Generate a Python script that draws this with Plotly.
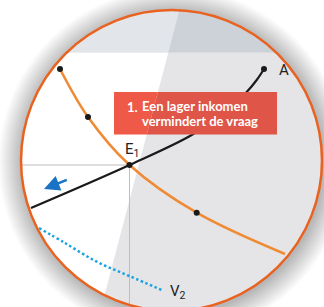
import numpy as np
import plotly.graph_objects as go

# ---- data (pixel-like units) ----
supply_x = [31, 129.5, 191.7, 222, 246.7, 256.7, 264]
supply_y = [208, 165, 135, 114, 92, 80, 69]

demand_x = [60, 88, 129.5, 196.7, 285]
demand_y = [69, 117, 165, 212.7, 254]

v2_x = [39, 65, 96.7, 129.3, 163.3]
v2_y = [228, 243, 261.7, 276, 290.7]

dots_x = [60, 88, 129.5, 196.7, 264]
dots_y = [69, 117, 165, 212.7, 69]

eq_x, eq_y = 129.5, 165          # E1
arrow_tail = (68.3, 179.3)
arrow_head = (44, 189)

labels = ["A", "E<sub>1</sub>", "V<sub>2</sub>"]
label_x = [277, 123, 168]
label_y = [70, 150, 292]

box_line1 = "Een lager inkomen"
box_line2 = "vermindert de vraag"
box_num = "1."

# ---- geometry of the magnifier ----
W, H = 324, 307
cx, cy, r = 171.5, 160.5, 150.5
band_y = 52.5
slant_a, slant_b = 182.13, 0.263    # x = a - b*y
box = (114, 92, 277, 134.5)

th = np.linspace(0, 2 * np.pi, 361)[:-1]
circle_poly = [(cx + r * np.cos(t), cy + r * np.sin(t)) for t in th]


def clip(poly, f):
    """keep f(p) <= 0 (f linear)"""
    out = []
    n = len(poly)
    for i in range(n):
        p, q = poly[i], poly[(i + 1) % n]
        fp, fq = f(p), f(q)
        if fp <= 0:
            out.append(p)
        if (fp <= 0) != (fq <= 0):
            t = fp / (fp - fq)
            out.append((p[0] + t * (q[0] - p[0]), p[1] + t * (q[1] - p[1])))
    return out


def path(poly):
    return "M " + " L ".join(f"{x:.2f},{y:.2f}" for x, y in poly) + " Z"


left_of = lambda p: p[0] + slant_b * p[1] - slant_a
right_of = lambda p: -(p[0] + slant_b * p[1] - slant_a)
above_band = lambda p: p[1] - band_y
below_band = lambda p: band_y - p[1]

shapes = []
# soft shadow
for k in range(24, 0, -1):
    shapes.append(dict(type="circle", xref="x", yref="y", layer="below",
                       x0=cx + 1.5 - r - k, x1=cx + 1.5 + r + k,
                       y0=cy + 2 - r - k, y1=cy + 2 + r + k,
                       fillcolor="rgba(0,0,0,0.01)", line=dict(width=0)))
shapes.append(dict(type="path", path=path(circle_poly), fillcolor="#e5e5e8",
                   line=dict(width=0), layer="below", xref="x", yref="y"))
white = clip(clip(circle_poly, below_band), left_of)
shapes.append(dict(type="path", path=path(white), fillcolor="#ffffff",
                   line=dict(width=0), layer="below", xref="x", yref="y"))
band_l = clip(circle_poly, above_band)
shapes.append(dict(type="path", path=path(band_l), fillcolor="#e2e6ea",
                   line=dict(width=0), layer="below", xref="x", yref="y"))
band_r = clip(band_l, right_of)
shapes.append(dict(type="path", path=path(band_r), fillcolor="#cdd1d8",
                   line=dict(width=0), layer="below", xref="x", yref="y"))

# red box (two tones)
bx0, by0, bx1, by1 = box
box_poly = [(bx0, by0), (bx1, by0), (bx1, by1), (bx0, by1)]
shapes.append(dict(type="path", path=path(clip(box_poly, left_of)), fillcolor="#ef5a48",
                   line=dict(width=0), layer="above", xref="x", yref="y"))
shapes.append(dict(type="path", path=path(clip(box_poly, right_of)), fillcolor="#df5548",
                   line=dict(width=0), layer="above", xref="x", yref="y"))
# circle outline
shapes.append(dict(type="circle", xref="x", yref="y", layer="above",
                   x0=cx - r, x1=cx + r, y0=cy - r, y1=cy + r,
                   line=dict(color="#e9621f", width=2.5), fillcolor="rgba(0,0,0,0)"))

fig = go.Figure()
# guide lines to E1
left_x = cx - np.sqrt(r**2 - (eq_y - cy) ** 2)
bottom_y = cy + np.sqrt(r**2 - (eq_x - cx) ** 2)
fig.add_trace(go.Scatter(x=[left_x, eq_x, eq_x], y=[eq_y, eq_y, bottom_y], mode="lines",
                         line=dict(color="#bdbdbd", width=1), hoverinfo="skip"))
fig.add_trace(go.Scatter(x=v2_x, y=v2_y, mode="lines", line_shape="spline",
                         line=dict(color="#1ba3e0", width=2.5, dash="2.5px,2.5px"), hoverinfo="skip"))
fig.add_trace(go.Scatter(x=demand_x, y=demand_y, mode="lines", line_shape="spline",
                         line=dict(color="#ef8b34", width=2.6), hoverinfo="skip"))
fig.add_trace(go.Scatter(x=supply_x, y=supply_y, mode="lines", line_shape="spline",
                         line=dict(color="#1a1a1a", width=2.2), hoverinfo="skip"))
fig.add_trace(go.Scatter(x=dots_x, y=dots_y, mode="markers",
                         marker=dict(color="#1a1a1a", size=6), hoverinfo="skip"))

annotations = []
for t, x, y in zip(labels, label_x, label_y):
    annotations.append(dict(x=x, y=y, text=t, showarrow=False, xanchor="left", yanchor="middle",
                            font=dict(family="Roboto", size=15, color="#222222")))
annotations.append(dict(x=arrow_head[0], y=arrow_head[1], ax=arrow_tail[0], ay=arrow_tail[1],
                        xref="x", yref="y", axref="x", ayref="y", text="", showarrow=True,
                        arrowhead=2, arrowsize=1.25, arrowwidth=2.5, arrowcolor="#1a72c4"))
box_font = dict(family="Lato", size=13, color="white", weight=700)
annotations.append(dict(x=126, y=106.5, text=box_num, showarrow=False, xanchor="left", yanchor="middle",
                        font=box_font, borderpad=0))
annotations.append(dict(x=141, y=106, text=box_line1, showarrow=False, xanchor="left", yanchor="middle",
                        font=box_font, borderpad=0))
annotations.append(dict(x=141, y=121, text=box_line2, showarrow=False, xanchor="left", yanchor="middle",
                        font=box_font, borderpad=0))

fig.update_layout(width=W, height=H, margin=dict(l=0, r=0, t=0, b=0),
                  paper_bgcolor="white", plot_bgcolor="white", showlegend=False,
                  shapes=shapes, annotations=annotations,
                  xaxis=dict(range=[0, W], visible=False, fixedrange=True),
                  yaxis=dict(range=[H, 0], visible=False, fixedrange=True))
fig.write_html("out.html", config={"displayModeBar": False},
               post_script="document.body.style.margin='0';document.body.style.overflow='hidden';")
